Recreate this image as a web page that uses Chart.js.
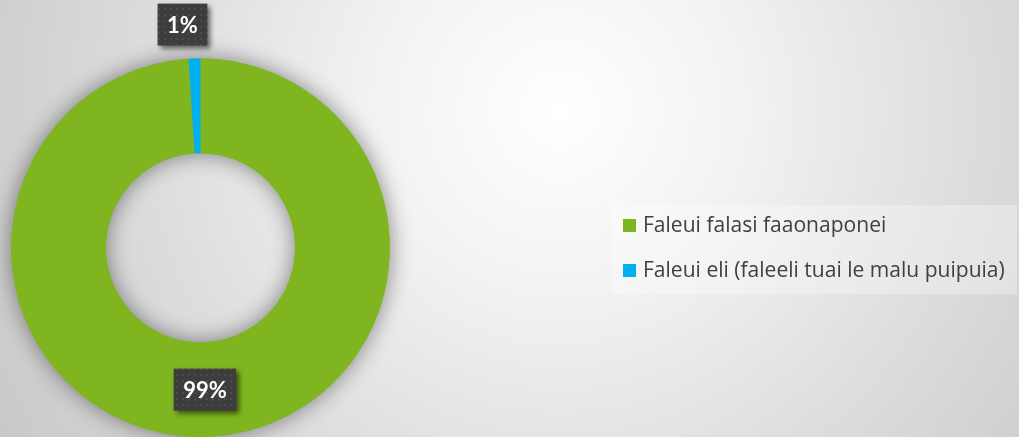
<!DOCTYPE html>
<html>
<head>
<meta charset="utf-8">
<script src="https://cdn.jsdelivr.net/npm/chart.js@4.4.1/dist/chart.umd.min.js"></script>
<style>
html,body{margin:0;padding:0;overflow:hidden;background:#e8e8e8;}
canvas{display:block;}
</style>
</head>
<body>
<canvas id="c" width="1019" height="437"></canvas>
<script>
const categories = ["Faleui falasi faaonaponei", "Faleui eli (faleeli tuai le malu puipuia)"];
const values = [99, 1];
const valueLabels = ["99%", "1%"];
const colors = ["#7fb51e", "#00b0f0"];

const FONT = "Lato, 'Open Sans', 'DejaVu Sans', sans-serif";
const LEGEND_FONT = "'Open Sans', 'Noto Sans', sans-serif";

const bgPlugin = {
  id: 'bg',
  beforeDraw(chart) {
    const ctx = chart.ctx, w = chart.width, h = chart.height;
    ctx.save();
    const g = ctx.createRadialGradient(560, 110, 0, 560, 110, 700);
    g.addColorStop(0, '#ffffff');
    g.addColorStop(0.25, '#f3f3f3');
    g.addColorStop(0.6, '#dcdcdc');
    g.addColorStop(1, '#c4c4c4');
    ctx.fillStyle = g;
    ctx.fillRect(0, 0, w, h);
    ctx.restore();
  }
};

const shadowPlugin = {
  id: 'ringShadow',
  beforeDatasetsDraw(chart) {
    const arc = chart.getDatasetMeta(0).data[0];
    if (!arc) return;
    const ctx = chart.ctx;
    ctx.save();
    ctx.shadowColor = 'rgba(0,0,0,0.45)';
    ctx.shadowBlur = 22;
    ctx.fillStyle = colors[0];
    ctx.beginPath();
    ctx.arc(arc.x, arc.y, arc.outerRadius, 0, Math.PI * 2, false);
    ctx.arc(arc.x, arc.y, arc.innerRadius, 0, Math.PI * 2, true);
    ctx.closePath();
    ctx.fill();
    ctx.restore();
  }
};

function makePattern(ctx) {
  const pc = document.createElement('canvas');
  pc.width = 6; pc.height = 6;
  const p = pc.getContext('2d');
  p.fillStyle = '#3d3d3d';
  p.fillRect(0, 0, 6, 6);
  p.fillStyle = 'rgba(255,255,255,0.08)';
  p.fillRect(2, 2, 2, 2);
  return ctx.createPattern(pc, 'repeat');
}

const labelOffsets = [{dx: 0, dy: 0, outside: false}, {dx: -11, dy: 0, outside: true, gap: 34}];

const labelPlugin = {
  id: 'valLabels',
  afterDatasetsDraw(chart) {
    const ctx = chart.ctx;
    const meta = chart.getDatasetMeta(0);
    const pat = makePattern(ctx);
    meta.data.forEach((arc, i) => {
      const mid = (arc.startAngle + arc.endAngle) / 2;
      const o = labelOffsets[i];
      const r = o.outside ? arc.outerRadius + o.gap : (arc.innerRadius + arc.outerRadius) / 2;
      const cx = arc.x + Math.cos(mid) * r + o.dx;
      const cy = arc.y + Math.sin(mid) * r + o.dy;
      ctx.save();
      ctx.font = "bold 22px " + FONT;
      const tw = ctx.measureText(valueLabels[i]).width;
      const bw = tw + 19, bh = 42;
      ctx.shadowColor = 'rgba(0,0,0,0.55)';
      ctx.shadowBlur = 5;
      ctx.shadowOffsetX = 3;
      ctx.shadowOffsetY = 3;
      ctx.fillStyle = pat;
      ctx.fillRect(cx - bw / 2, cy - bh / 2, bw, bh);
      ctx.shadowColor = 'transparent';
      ctx.fillStyle = '#ffffff';
      ctx.textAlign = 'center';
      ctx.textBaseline = 'middle';
      ctx.fillText(valueLabels[i], cx, cy + 1);
      ctx.restore();
    });
  }
};

const legendPlugin = {
  id: 'customLegend',
  afterDraw(chart) {
    const ctx = chart.ctx;
    ctx.save();
    ctx.fillStyle = 'rgba(255,255,255,0.3)';
    ctx.fillRect(611, 205, 406, 89);
    ctx.font = "18px " + LEGEND_FONT;
    const w18 = Math.max(...categories.map(c => ctx.measureText(c).width));
    const size = Math.max(14, Math.min(22, 18 * 362 / w18));
    ctx.font = size.toFixed(2) + "px " + LEGEND_FONT;
    ctx.textBaseline = 'middle';
    categories.forEach((c, i) => {
      const y = 226 + i * 45;
      ctx.fillStyle = colors[i];
      ctx.fillRect(623, y - 7, 13, 13);
      ctx.fillStyle = '#404040';
      ctx.fillText(c, 643, y);
    });
    ctx.restore();
  }
};

new Chart(document.getElementById('c'), {
  type: 'doughnut',
  data: {
    labels: categories,
    datasets: [{
      data: values,
      backgroundColor: colors,
      borderWidth: 0,
      hoverOffset: 0
    }]
  },
  options: {
    responsive: false,
    animation: false,
    cutout: '50%',
    rotation: 0,
    layout: { padding: { left: 10.5, right: 628.5, top: 58.5, bottom: -1.5 } },
    plugins: {
      legend: { display: false },
      tooltip: { enabled: false }
    }
  },
  plugins: [bgPlugin, shadowPlugin, labelPlugin, legendPlugin]
});
</script>
</body>
</html>
